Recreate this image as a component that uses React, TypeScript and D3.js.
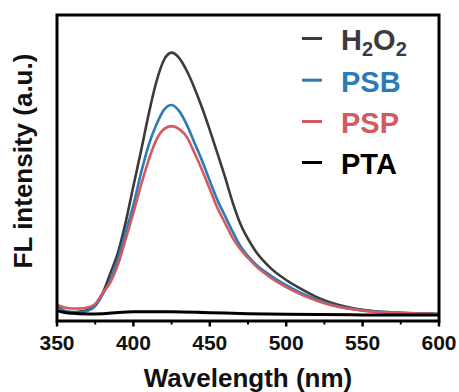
import React from "react";
import * as d3 from "d3";

const wavelengths = [350,355,360,365,370,375,380,385,390,395,400,405,410,415,420,425,430,435,440,445,450,455,460,465,470,475,480,490,500,510,520,530,540,550,560,570,580,590,600];
const h2o2 = [49,33,29,31,36,52,92,157,225,324,441,556,676,781,853,877,859,817,761,696,624,548,470,387,318,268,228,172,134,104,78,59,46,37,31,28,26,25,23];
const psb = [49,33,28,28,33,49,88,134,203,291,379,484,575,641,690,706,686,641,582,523,458,395,343,291,245,212,186,148,117,91,70,53,42,35,31,28,25,24,23];
const psp = [52,44,41,41,44,56,92,127,186,268,353,444,526,592,627,637,627,601,549,493,431,369,320,271,235,206,180,141,111,86,66,51,41,34,29,27,25,24,23];
const ptaWavelengths = [350,355,360,370,380,390,400,425,450,475,500,550,600];
const pta = [34,28,25,23,24,28,30,30,27,24,22,20,20];

const seriesNames = ["H2O2", "PSB", "PSP", "PTA"];
const seriesColors = ["#3b3b3b", "#2b7bb7", "#d35a5e", "#000000"];
const xTicks = [350, 400, 450, 500, 550, 600];
const xMinorTicks = [375, 425, 475, 525, 575];

const W = 459, H = 392;
const L = 57, R = 439, T = 15, B = 321;
const FONT = "'Liberation Sans', Arial, Helvetica, sans-serif";

export default function App() {
  const x = d3.scaleLinear().domain([350, 600]).range([L, R]);
  const y = d3.scaleLinear().domain([0, 1000]).range([B, T]);
  const line = d3.line<[number, number]>().x(d => x(d[0])).y(d => y(d[1])).curve(d3.curveMonotoneX);

  const series = [
    { name: seriesNames[0], color: seriesColors[0], pts: wavelengths.map((w, i) => [w, h2o2[i]] as [number, number]), width: 2.6 },
    { name: seriesNames[1], color: seriesColors[1], pts: wavelengths.map((w, i) => [w, psb[i]] as [number, number]), width: 2.6 },
    { name: seriesNames[2], color: seriesColors[2], pts: wavelengths.map((w, i) => [w, psp[i]] as [number, number]), width: 2.6 },
    { name: seriesNames[3], color: seriesColors[3], pts: ptaWavelengths.map((w, i) => [w, pta[i]] as [number, number]), width: 3 },
  ];

  const legendY = [50, 91.7, 133, 174];

  return (
    <svg width={W} height={H} style={{ position: "absolute", left: 0, top: 0, background: "#fff" }} fontFamily={FONT}>
      <rect x={0} y={0} width={W} height={H} fill="#fff" />
      {series.map(s => (
        <path key={s.name} d={line(s.pts) || ""} fill="none" stroke={s.color} strokeWidth={s.width} strokeLinejoin="round" />
      ))}
      <rect x={L} y={T} width={R - L} height={B - T} fill="none" stroke="#000" strokeWidth={3} />
      {xTicks.map(t => (
        <line key={t} x1={x(t)} x2={x(t)} y1={B} y2={B + 5.5} stroke="#000" strokeWidth={2.5} />
      ))}
      {xMinorTicks.map(t => (
        <line key={t} x1={x(t)} x2={x(t)} y1={B} y2={B + 3.5} stroke="#000" strokeWidth={2} />
      ))}
      {xTicks.map(t => (
        <text key={t} x={x(t)} y={350} textAnchor="middle" fontSize={21} fontWeight="bold" fill="#111">{t}</text>
      ))}
      <text x={(L + R) / 2} y={387} textAnchor="middle" fontSize={26} fontWeight="bold" fill="#111">Wavelength (nm)</text>
      <text transform={`translate(32,${(52 + 270) / 2}) rotate(-90)`} textAnchor="middle" fontSize={26} fontWeight="bold" fill="#111">FL intensity (a.u.)</text>
      {series.map((s, i) => (
        <g key={s.name}>
          <line x1={302} x2={322} y1={legendY[i] - 11.5} y2={legendY[i] - 11.5} stroke={s.color} strokeWidth={3} />
          {i === 0 ? (
            <text x={341} y={legendY[i]} fontSize={29} fontWeight="bold" fill={s.color}>
              H<tspan fontSize={20} dy={6}>2</tspan><tspan dy={-6}>O</tspan><tspan fontSize={20} dy={6}>2</tspan>
            </text>
          ) : (
            <text x={341} y={legendY[i]} fontSize={29} fontWeight="bold" fill={s.color}>{s.name}</text>
          )}
        </g>
      ))}
    </svg>
  );
}
